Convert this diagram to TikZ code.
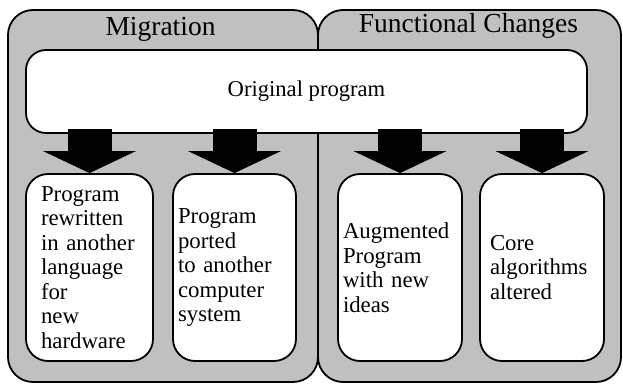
\documentclass[tikz,border=0pt]{standalone}
\usepackage{fontspec}
\setmainfont{Liberation Serif}
\usetikzlibrary{arrows.meta}
\definecolor{panelgrey}{HTML}{C0C0C0}
\tikzset{
  panel/.style={draw=black, line width=1.8pt, fill=panelgrey, rounded corners=25pt},
  origbox/.style={draw=black, line width=1.8pt, fill=white, rounded corners=20pt,
    minimum width=561pt, minimum height=83pt, inner sep=0pt,
    font=\fontsize{22.6}{24.5}\selectfont},
  leafbox/.style={draw=black, line width=1.8pt, fill=white, rounded corners=22pt,
    minimum height=187pt, inner ysep=0pt, align=left,
    font=\fontsize{22.8}{24.5}\selectfont},
  title/.style={anchor=base, inner sep=0pt, font=\fontsize{27.5}{29}\selectfont},
  bigarrow/.style={line width=44pt, -{Triangle[length=22pt,width=92pt]}, black}
}
\begin{document}
\begin{tikzpicture}[x=1pt,y=1pt]
\useasboundingbox (0,0) rectangle (623,385);
% panels
\path[panel] (8,375) rectangle (318,3);
\path[panel] (318,375) rectangle (621,3);
\node[title] (tmig) at (160.5,349) {Migration};
\node[title] (tfun) at (468.5,352) {Functional Changes};
% original program
\node[origbox] (orig) at (306.5,293.5) {Original program};
% leaf boxes
\node[leafbox, minimum width=127pt, inner xsep=15pt, text width=97pt] (b1) at (89.5,117.5)
  {Program\\rewritten\\in another\\language\\for\\new\\hardware};
\node[leafbox, minimum width=123pt, inner xsep=5pt, text width=113pt] (b2) at (234.5,117.5)
  {Program\\ported\\to another\\computer\\system};
\node[leafbox, minimum width=124pt, inner xsep=5pt, text width=114pt] (b3) at (400,117.5)
  {Augmented\\Program\\with new\\ideas};
\node[leafbox, minimum width=124pt, inner xsep=10pt, text width=104pt] (b4) at (542,117.5)
  {Core\\algorithms\\altered};
% arrows
\foreach \b in {b1,b2,b3,b4}{
  \path (\b.north |- orig.south) ++(0,5) coordinate (s\b);
  \draw[bigarrow] (s\b) -- (\b.north);
}
\end{tikzpicture}
\end{document}
